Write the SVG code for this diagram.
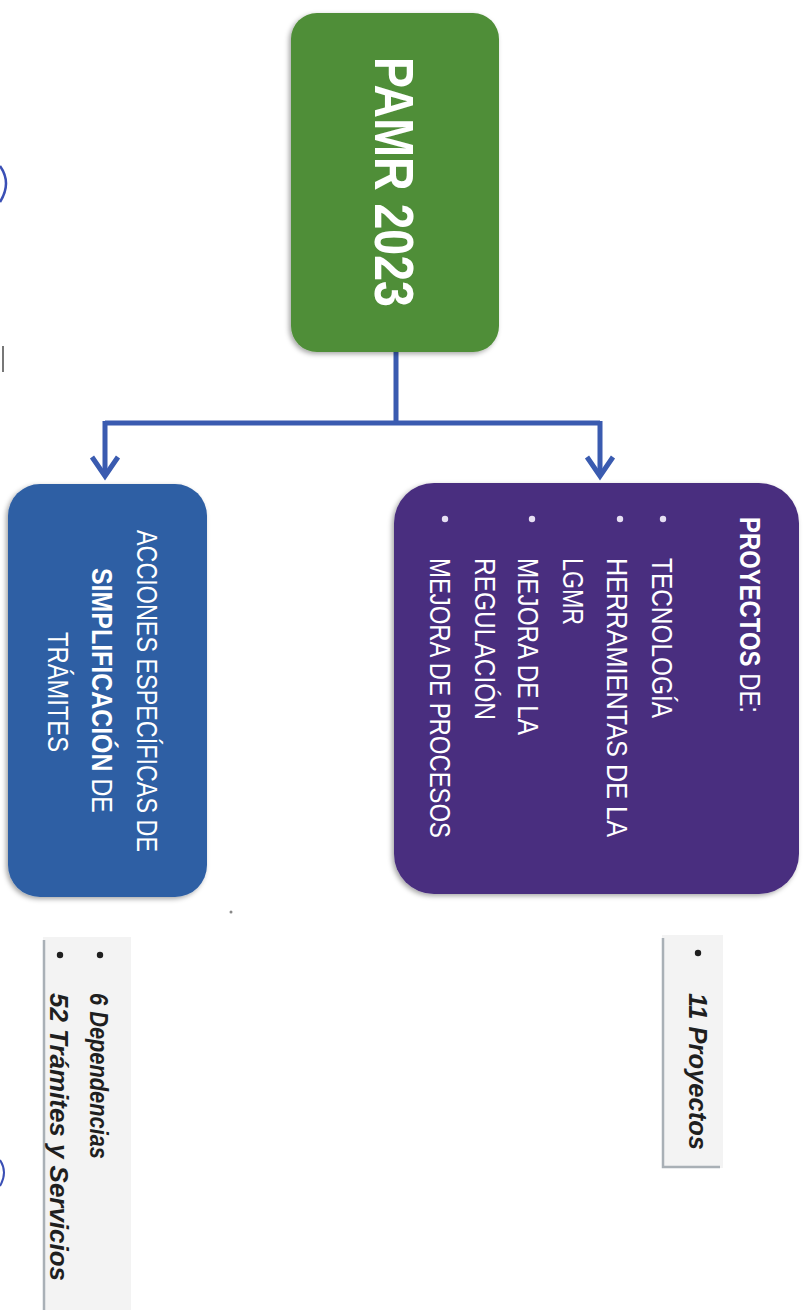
<svg xmlns="http://www.w3.org/2000/svg" width="807" height="1310" viewBox="0 0 807 1310">
  <defs>
    <style>
      .wt { font-family: "Liberation Sans", Arial, sans-serif; fill: #ffffff; }
      .big { font-size: 55px; font-weight: bold; }
      .mid { font-size: 29px; }
      .b { font-weight: bold; }
      .note { font-family: "Liberation Sans", Arial, sans-serif; font-weight: bold; font-style: italic; font-size: 26px; fill: #1f1f1f; }
      .conn { fill: none; stroke: #3a5bb0; stroke-width: 5; stroke-linejoin: miter; }
      .notebox { fill: #f3f3f3; }
      .noteedge { fill: none; stroke: #a9b0b6; stroke-width: 2.5; }
      .dotw { fill: #e6dff3; }
      .dotk { fill: #1f1f1f; }
    </style>
    <filter id="sh" x="-10%" y="-10%" width="120%" height="120%">
      <feDropShadow dx="-2" dy="2" stdDeviation="2.5" flood-color="#000" flood-opacity="0.35"/>
    </filter>
  </defs>

  <rect width="807" height="1310" fill="#ffffff"/>

  <!-- scan marks at left edge -->
  <g id="scan-marks" fill="none">
    <path d="M0 166 Q12 183 0 202" stroke="#3a4fb5" stroke-width="2.5"/>
    <path d="M0 1160 Q8 1172 0 1186" stroke="#3a4fb5" stroke-width="2"/>
    <line x1="3" y1="346" x2="3" y2="372" stroke="#777" stroke-width="2"/>
    <circle cx="231" cy="912" r="1.5" fill="#888"/>
  </g>

  <!-- connectors -->
  <g id="connectors">
    <path class="conn" d="M396 352 V423 M105 423 H600 M105 421 V476 M600 421 V476"/>
    <polyline class="conn" points="92,457 105,476 118,457"/>
    <polyline class="conn" points="587,457 600,476 613,457"/>
  </g>

  <!-- root node -->
  <g id="node-pamr">
    <rect x="291" y="13" width="208" height="339" rx="26" fill="#4f8e37" filter="url(#sh)"/>
    <text class="wt big" transform="translate(375,57) rotate(90)" textLength="250" lengthAdjust="spacingAndGlyphs">PAMR 2023</text>
  </g>

  <!-- proyectos node -->
  <g id="node-proyectos">
    <rect x="394" y="483" width="405" height="411" rx="40" fill="#4a2f7f" filter="url(#sh)"/>
    <text class="wt mid" transform="translate(740,517) rotate(90)" textLength="196" lengthAdjust="spacingAndGlyphs"><tspan class="b">PROYECTOS</tspan> DE:</text>
    <circle class="dotw" cx="663" cy="519" r="3.2"/>
    <text class="wt mid" transform="translate(652,558) rotate(90)" textLength="160" lengthAdjust="spacingAndGlyphs">TECNOLOGÍA</text>
    <circle class="dotw" cx="620" cy="519" r="3.2"/>
    <text class="wt mid" transform="translate(607,558) rotate(90)" textLength="279" lengthAdjust="spacingAndGlyphs">HERRAMIENTAS DE LA</text>
    <text class="wt mid" transform="translate(563,558) rotate(90)" textLength="67" lengthAdjust="spacingAndGlyphs">LGMR</text>
    <circle class="dotw" cx="532" cy="519" r="3.2"/>
    <text class="wt mid" transform="translate(518,558) rotate(90)" textLength="177" lengthAdjust="spacingAndGlyphs">MEJORA DE LA</text>
    <text class="wt mid" transform="translate(475,558) rotate(90)" textLength="162" lengthAdjust="spacingAndGlyphs">REGULACIÓN</text>
    <circle class="dotw" cx="445" cy="519" r="3.2"/>
    <text class="wt mid" transform="translate(430,558) rotate(90)" textLength="280" lengthAdjust="spacingAndGlyphs">MEJORA DE PROCESOS</text>
  </g>

  <!-- acciones node -->
  <g id="node-acciones">
    <rect x="8" y="484" width="199" height="413" rx="32" fill="#2e5fa4" filter="url(#sh)"/>
    <text class="wt mid" transform="translate(137,530) rotate(90)" textLength="322" lengthAdjust="spacingAndGlyphs">ACCIONES ESPECÍFICAS DE</text>
    <text class="wt mid" transform="translate(92,568) rotate(90)" textLength="245" lengthAdjust="spacingAndGlyphs"><tspan class="b">SIMPLIFICACIÓN</tspan> DE</text>
    <text class="wt mid" transform="translate(48,632) rotate(90)" textLength="120" lengthAdjust="spacingAndGlyphs">TRÁMITES</text>
  </g>

  <!-- note 11 proyectos -->
  <g id="note-proyectos">
    <rect class="notebox" x="662" y="935" width="61" height="233"/>
    <path class="noteedge" d="M663 938 V1167 H720"/>
    <circle class="dotk" cx="698" cy="953" r="3.2"/>
    <text class="note" transform="translate(689,993) rotate(90)" textLength="157" lengthAdjust="spacingAndGlyphs">11 Proyectos</text>
  </g>

  <!-- note dependencias -->
  <g id="note-dependencias">
    <rect class="notebox" x="43" y="937" width="88" height="373"/>
    <path class="noteedge" d="M44 940 V1310"/>
    <circle class="dotk" cx="100" cy="955" r="3.2"/>
    <text class="note" transform="translate(90,993) rotate(90)" textLength="166" lengthAdjust="spacingAndGlyphs">6 Dependencias</text>
    <circle class="dotk" cx="60" cy="955" r="3.2"/>
    <text class="note" transform="translate(50,993) rotate(90)" textLength="288" lengthAdjust="spacingAndGlyphs">52 Trámites y Servicios</text>
  </g>
</svg>
